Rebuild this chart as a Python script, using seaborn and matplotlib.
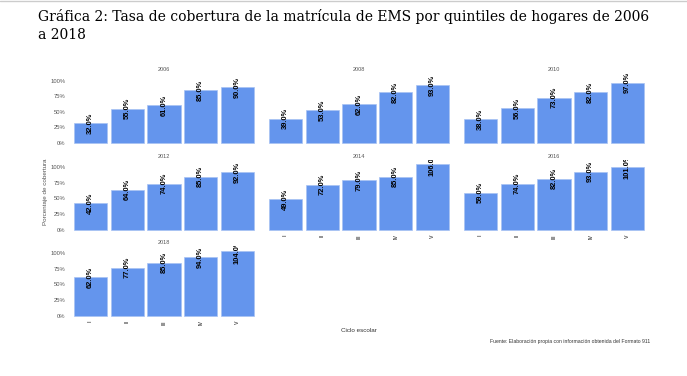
import matplotlib
matplotlib.use("Agg")
import matplotlib.pyplot as plt
from matplotlib.lines import Line2D
import seaborn as sns
import pandas as pd

# ---- data ----
years = ["2006", "2008", "2010", "2012", "2014", "2016", "2018"]
quintiles = ["I", "II", "III", "IV", "V"]
v2006 = [32, 55, 61, 85, 90]
v2008 = [39, 53, 62, 82, 93]
v2010 = [38, 56, 73, 82, 97]
v2012 = [42, 64, 74, 85, 92]
v2014 = [49, 72, 79, 85, 106]
v2016 = [59, 74, 82, 93, 101]
v2018 = [62, 77, 85, 94, 104]
values = [v2006, v2008, v2010, v2012, v2014, v2016, v2018]
yticks = [0, 25, 50, 75, 100]
ytick_labels = ["0%", "25%", "50%", "75%", "100%"]

title_line1 = "Gráfica 2: Tasa de cobertura de la matrícula de EMS por quintiles de hogares de 2006"
title_line2 = "a 2018"
ylabel = "Porcentaje de cobertura"
xlabel = "Ciclo escolar"
caption = "Fuente: Elaboración propia con información obtenida del Formato 911"

rows = []
for y, vals in zip(years, values):
    for q, v in zip(quintiles, vals):
        rows.append({"year": y, "quintil": q, "valor": v})
df = pd.DataFrame(rows)

sns.set_theme(style="white")
plt.rcParams["font.family"] = ["Liberation Sans", "DejaVu Sans"]

W, H = 687, 376
fig = plt.figure(figsize=(W / 100, H / 100), dpi=100)
fig.patch.set_facecolor("white")

col_left = [68.5, 263.5, 458.5]
row_top = [73.7, 160.3, 246.3]
pw, ph = 191, 72.6
bar_color = "#6495ED"
gray = "#555555"

bottom_panels = {"2014", "2016", "2018"}

for i, y in enumerate(years):
    r, c = divmod(i, 3)
    left = col_left[c] / W
    bottom = 1 - (row_top[r] + ph) / H
    ax = fig.add_axes([left, bottom, pw / W, ph / H])
    sub = df[df["year"] == y]
    sns.barplot(data=sub, x="quintil", y="valor", order=quintiles, ax=ax,
                color=bar_color, saturation=1, width=0.9,
                edgecolor="#a8c3f3", linewidth=0.5, errorbar=None)
    ax.set_xlim(-0.6, 4.6)
    ax.set_ylim(-5.3, 111.3)
    for s in ax.spines.values():
        s.set_visible(False)
    ax.grid(False)
    ax.set_xlabel("")
    ax.set_ylabel("")
    ax.tick_params(length=0, pad=2)
    ax.set_yticks(yticks)
    if c == 0:
        ax.set_yticklabels(ytick_labels, fontsize=4.2, color=gray)
    else:
        ax.set_yticklabels([])
    ax.set_xticks(range(len(quintiles)))
    if y in bottom_panels:
        ax.set_xticklabels(quintiles, rotation=90, fontsize=3.8, color=gray,
                           fontweight="bold")
        ax.tick_params(axis="x", pad=1)
    else:
        ax.set_xticklabels([])
    for j, v in enumerate(sub["valor"].tolist()):
        ax.text(j, v, f"{v:.1f}%", rotation=90, ha="center", va="center",
                fontsize=5.4, fontweight="bold", color="black", clip_on=True)
    ax.text(0.5, 1.02, y, transform=ax.transAxes, ha="center", va="bottom",
            fontsize=4, color=gray)

serif = ["DejaVu Serif"]
fig.text(38 / W, 1 - 21 / H, title_line1, ha="left", va="baseline",
         family=serif, fontsize=10.0, color="black")
fig.text(38 / W, 1 - 39 / H, title_line2, ha="left", va="baseline",
         family=serif, fontsize=10.0, color="black")
fig.add_artist(Line2D([0, 1], [1 - 1 / H, 1 - 1 / H], transform=fig.transFigure,
                      color="#cccccc", lw=1))
fig.text(46 / W, 1 - 192 / H, ylabel, rotation=90, ha="center", va="center",
         fontsize=4.5, color=gray)
fig.text(359 / W, 1 - 331 / H, xlabel, ha="center", va="center",
         fontsize=4.5, color="#333333")
fig.text(650 / W, 1 - 341 / H, caption, ha="right", va="center",
         fontsize=3.7, color="#333333")

fig.savefig("out.png", dpi=100)
